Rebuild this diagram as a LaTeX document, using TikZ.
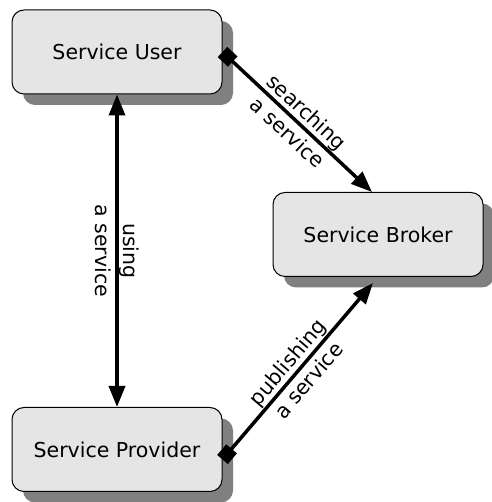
\documentclass[tikz,border=0pt]{standalone}
\usepackage{fontspec}
\setmainfont{DejaVu Sans}
\usetikzlibrary{arrows.meta,shadows}

\begin{document}
\begin{tikzpicture}[x=1pt,y=1pt,
    >={Triangle[length=21pt,width=16pt]},
    role/.style={draw, line width=1pt, rounded corners=12pt, fill=black!10,
      minimum width=210pt, minimum height=84pt,
      font=\fontsize{20.5}{28}\selectfont,
      drop shadow={shadow xshift=11pt, shadow yshift=-11pt, fill=black!50, opacity=1}},
    link/.style={line width=3.5pt},
    lab/.style={midway, sloped, align=center, font=\fontsize{20.5}{28}\selectfont}]
  \useasboundingbox (0,0) rectangle (491,502);

  % Roles
  \node[role] (user) at (117,450) {Service User};
  \node[role] (broker) at (378,267.5) {Service Broker};
  \node[role] (provider) at (117,52.5) {Service Provider};

  % Interactions
  \draw[link,<->] (user) -- (provider) node[lab] {using\\a service};
  \draw[link,{Square[length=14pt,width=14pt]}->] (user.east) -- ([xshift=-6pt]broker.north)
    node[lab] {searching\\a service};
  \draw[link,{Square[length=14pt,width=14pt]}->] ([yshift=-10pt]provider.east) -- ([shift={(-5pt,-6pt)}]broker.south)
    node[lab] {publishing\\a service};
\end{tikzpicture}
\end{document}
